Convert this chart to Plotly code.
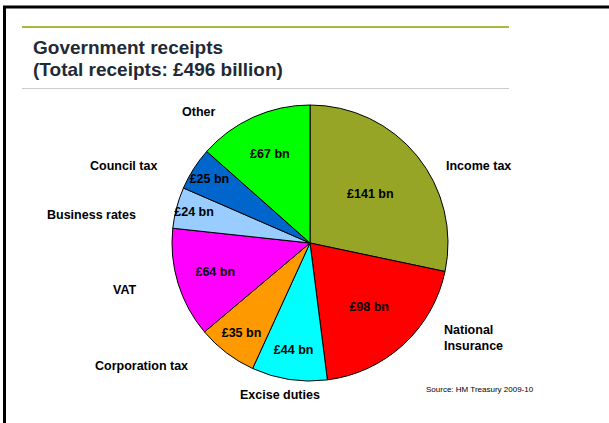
import plotly.graph_objects as go

# UK government receipts 2009-10, £ billion
categories = ["Income tax", "National<br>Insurance", "Excise duties", "Corporation tax",
              "VAT", "Business rates", "Council tax", "Other"]
receipts_bn = [141, 98, 44, 35, 64, 24, 25, 67]
slice_colors = ["#97A527", "#FF0000", "#00FFFF", "#FF9900",
                "#FF00FF", "#99CCFF", "#0066CC", "#00FF00"]

# outer category label anchors (pixels from top-left of the 609x423 canvas)
label_pos = [(478, 166, "center"), (442, 338, "left"), (280, 395, "center"),
             (141, 366, "center"), (125, 290, "center"), (91, 215, "center"),
             (123, 166, "center"), (198, 112, "center")]

W, H = 609, 423
cx, cy, r = 310, 243, 138

fig = go.Figure(go.Pie(
    labels=categories,
    values=receipts_bn,
    text=[f"£{v} bn" for v in receipts_bn],
    textinfo="text",
    textposition="inside",
    insidetextorientation="horizontal",
    textfont=dict(family="Liberation Sans", size=12.5, color="black", weight="bold"),
    marker=dict(colors=slice_colors, line=dict(color="black", width=1)),
    sort=False,
    direction="clockwise",
    rotation=0,
    hoverinfo="label+value",
    domain=dict(x=[(cx - r) / W, (cx + r) / W], y=[(H - cy - r) / H, (H - cy + r) / H]),
    showlegend=False,
))

annotations = []
for name, (x, y, align) in zip(categories, label_pos):
    annotations.append(dict(
        x=x / W, y=1 - y / H, xref="paper", yref="paper",
        text=f"<b>{name}</b>", showarrow=False,
        xanchor="left" if align == "left" else "center", yanchor="middle",
        align=align,
        font=dict(family="Liberation Sans", size=12.5, color="black"),
    ))

title_font = dict(family="Liberation Sans", size=19, color="#1F2A35")
annotations.append(dict(x=31 / W, y=1 - 48 / H, xref="paper", yref="paper",
                        text="<b>Government receipts</b>", showarrow=False,
                        xanchor="left", yanchor="middle", font=title_font))
annotations.append(dict(x=31 / W, y=1 - 69 / H, xref="paper", yref="paper",
                        text="<b>(Total receipts: £496 billion)</b>", showarrow=False,
                        xanchor="left", yanchor="middle", font=title_font))
annotations.append(dict(x=480 / W, y=1 - 389 / H, xref="paper", yref="paper",
                        text="Source: HM Treasury 2009-10", showarrow=False,
                        xanchor="center", yanchor="middle",
                        font=dict(family="Liberation Sans", size=8, color="black")))

def px_line(x0, y0, x1, y1, color, width):
    return dict(type="line", xref="paper", yref="paper",
                x0=x0 / W, y0=1 - y0 / H, x1=x1 / W, y1=1 - y1 / H,
                line=dict(color=color, width=width))

shapes = [
    px_line(3, 7, W, 7, "black", 3),          # slide frame, top
    px_line(4.5, 7, 4.5, H, "black", 3),      # slide frame, left
    px_line(22, 27, 509, 27, "#A8BB3E", 2),   # accent rule above title
    px_line(22, 88.5, 509, 88.5, "#C9CDD2", 1),  # rule below title
]

fig.update_layout(
    width=W, height=H,
    margin=dict(l=0, r=0, t=0, b=0),
    paper_bgcolor="white", plot_bgcolor="white",
    uniformtext=dict(minsize=12.5, mode="show"),
    annotations=annotations,
    shapes=shapes,
)

fig.write_html("out.html")
